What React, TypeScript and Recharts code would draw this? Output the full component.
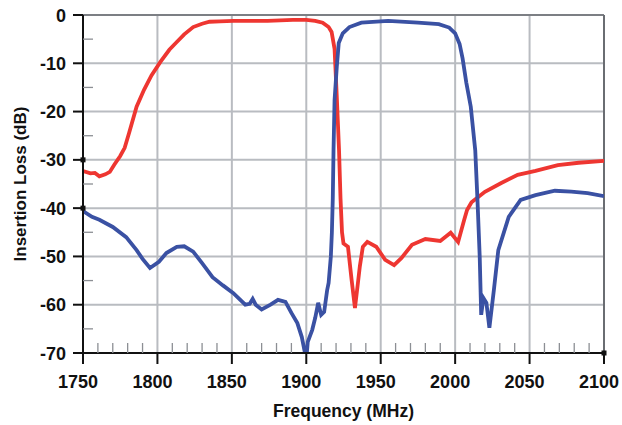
import { CartesianGrid, Line, LineChart, ReferenceDot, ReferenceLine, XAxis, YAxis } from "recharts";

const font = "'Liberation Sans', Arial, sans-serif";

// red trace (low band filter)
const redFreq = [
  1750, 1755, 1758, 1761, 1765, 1768, 1771, 1775, 1778, 1781, 1786, 1791, 1796, 1802, 1808, 1813, 1818,
  1824, 1830, 1835, 1842, 1851, 1874, 1891, 1900, 1906, 1911, 1915, 1917, 1919, 1920.5, 1922, 1923,
  1924, 1925, 1928, 1930.5, 1932.7, 1934.5, 1936, 1938, 1941, 1947, 1953, 1959, 1964, 1971, 1980,
  1990, 1997, 2002, 2006, 2008, 2011, 2020, 2031, 2042, 2054, 2069, 2083, 2100,
];
const redLoss = [
  -32.3, -32.8, -32.7, -33.4, -33.0, -32.5, -31.0, -29.2, -27.5, -24.4, -19.0, -15.5, -12.5, -9.7, -7.2, -5.6, -4.0,
  -2.5, -1.8, -1.4, -1.3, -1.2, -1.2, -1.0, -1.0, -1.2, -1.6, -2.5, -3.5, -7, -17, -28, -38,
  -45, -47.3, -48, -55, -60.7, -56, -52, -48, -47, -48, -50.7, -51.8, -50.3, -47.6, -46.4,
  -46.8, -45.1, -47, -42.5, -40.4, -38.8, -36.6, -34.8, -33.1, -32.3, -31.1, -30.6, -30.2,
];

// blue trace (high band filter)
const blueFreq = [
  1750, 1756, 1761, 1770, 1779, 1786, 1790, 1795, 1801, 1806, 1813, 1818, 1824, 1830, 1837, 1844, 1851,
  1859, 1862, 1864, 1866, 1870, 1876, 1881, 1886, 1890, 1894, 1897, 1900, 1901, 1904, 1906, 1908,
  1910, 1912, 1914, 1915, 1916.5, 1917.2, 1917.8, 1918.3, 1919, 1920.5, 1921.8, 1924.5, 1929, 1937,
  1955, 1975, 1989, 1996, 2000, 2003, 2005, 2007.5, 2010.5, 2013.5, 2015, 2016.5, 2017.5, 2019, 2021,
  2023, 2026, 2029, 2036, 2044, 2054, 2067, 2078, 2089, 2100,
];
const blueLoss = [
  -40.6, -41.8, -42.4, -43.9, -46.0, -48.7, -50.5, -52.4, -51.1, -49.3, -48.0, -47.9, -49, -51.4, -54.3, -56, -57.6,
  -60, -59.8, -58.8, -60, -61, -60, -59, -59.4, -61.7, -63.8, -66.7, -71.4, -67.7, -65.2, -62.7, -59.6,
  -62.1, -61.5, -57, -55.5, -50, -45, -38, -28, -17.6, -10.7, -5.8, -3.8, -2.5, -1.6,
  -1.2, -1.6, -1.9, -2.6, -3.8, -6, -9, -14, -19, -28, -38.3, -50, -62.1, -58.6, -59.6,
  -64.8, -57, -48.7, -41.8, -38.3, -37.3, -36.4, -36.6, -36.9, -37.5,
];

const majorFreq = [1750, 1800, 1850, 1900, 1950, 2000, 2050, 2100];
const lossLabels = [0, -10, -20, -30, -40, -50, -60, -70];
const freqTicks = Array.from({ length: 36 }, (_, i) => 1750 + i * 10);
const lossTicks = Array.from({ length: 15 }, (_, i) => -70 + i * 5);

// small black markers sitting on the axes in the original
const markers = [
  { f: 1750, loss: -30 },
  { f: 1750, loss: -40 },
  { f: 2100, loss: -70 },
];

const red = redFreq.map((f, i) => ({ f, loss: redLoss[i] }));
const blue = blueFreq.map((f, i) => ({ f, loss: blueLoss[i] }));

function FreqTick({ x, y, payload }: any) {
  const v = payload.value;
  if (!majorFreq.includes(v)) {
    return <line x1={x} x2={x} y1={y} y2={y - 10} stroke="#8c8f94" strokeWidth={1.3} />;
  }
  return (
    <g>
      <line x1={x} x2={x} y1={y} y2={y + 11} stroke="#111" strokeWidth={2} />
      <text x={x - 5} y={y + 35} textAnchor="middle" fontFamily={font} fontWeight={700} fontSize={18} fill="#111">
        {v}
      </text>
    </g>
  );
}

function LossTick({ x, y, payload }: any) {
  const v = payload.value;
  if (!lossLabels.includes(v)) {
    return <line x1={x} x2={x + 10} y1={y} y2={y} stroke="#8c8f94" strokeWidth={1.3} />;
  }
  return (
    <g>
      <line x1={x - 10} x2={x} y1={y} y2={y} stroke="#111" strokeWidth={2} />
      <text x={x - 17} y={y + 6.5} textAnchor="end" fontFamily={font} fontWeight={700} fontSize={18} fill="#111">
        {v}
      </text>
    </g>
  );
}

const square = ({ cx, cy }: any) => <rect x={cx - 2.5} y={cy - 2.5} width={5} height={5} fill="#111" />;

export default function App() {
  return (
    <div style={{ position: "absolute", left: 0, top: 0, background: "#fff" }}>
      <LineChart width={622} height={425} margin={{ top: 15, right: 18, bottom: 0, left: 0 }}>
        <CartesianGrid
          stroke="#b9bcc1"
          strokeWidth={2}
          verticalValues={[1800, 1850, 1900, 1950, 2000, 2050]}
          horizontalValues={[-10, -20, -30, -40, -50, -60]}
        />
        <ReferenceLine y={0} stroke="#7c7f84" strokeWidth={2} />
        <ReferenceLine x={2100} stroke="#6a6d72" strokeWidth={2} />
        <XAxis
          dataKey="f"
          type="number"
          domain={[1750, 2100]}
          ticks={freqTicks}
          interval={0}
          height={72}
          tickSize={0}
          tickMargin={0}
          tickLine={false}
          axisLine={{ stroke: "#111", strokeWidth: 2 }}
          tick={FreqTick}
          allowDataOverflow
          label={{
            value: "Frequency (MHz)",
            position: "insideBottom",
            offset: 8,
            fill: "#111",
            fontSize: 17.5,
            fontWeight: 700,
            fontFamily: font,
          }}
        />
        <YAxis
          type="number"
          domain={[-70, 0]}
          ticks={lossTicks}
          interval={0}
          width={83}
          tickSize={0}
          tickMargin={0}
          tickLine={false}
          axisLine={{ stroke: "#111", strokeWidth: 2 }}
          tick={LossTick}
          allowDataOverflow
          label={{
            value: "Insertion Loss (dB)",
            angle: -90,
            position: "insideLeft",
            offset: 20,
            fill: "#111",
            fontSize: 17,
            fontWeight: 700,
            fontFamily: font,
            style: { textAnchor: "middle" },
          }}
        />
        <Line data={red} dataKey="loss" stroke="#ee3631" strokeWidth={3.8} dot={false} isAnimationActive={false} />
        <Line data={blue} dataKey="loss" stroke="#3a51a3" strokeWidth={3.8} dot={false} isAnimationActive={false} />
        {markers.map((m, i) => (
          <ReferenceDot key={i} x={m.f} y={m.loss} r={2.5} shape={square} ifOverflow="visible" />
        ))}
      </LineChart>
    </div>
  );
}
